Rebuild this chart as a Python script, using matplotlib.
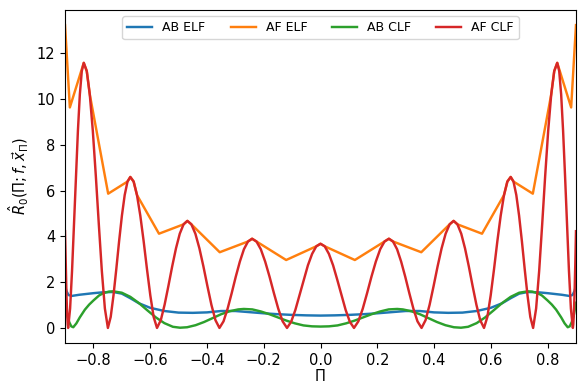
import matplotlib
matplotlib.use("Agg")
import matplotlib.pyplot as plt

# ── Data ───────────────────────────────────────────────────────────────────
# AB ELF (blue)
ab_elf_x = [-0.900, -0.895, -0.888, -0.876, -0.85, -0.80, -0.765, -0.73, -0.70, -0.67,
            -0.64, -0.60, -0.55, -0.50, -0.45, -0.40, -0.35, -0.30, -0.25, -0.20,
            -0.15, -0.10, -0.05, 0.0, 0.05, 0.10, 0.15, 0.20, 0.25, 0.30,
            0.35, 0.40, 0.45, 0.50, 0.55, 0.60, 0.64, 0.67, 0.70, 0.73,
            0.765, 0.80, 0.85, 0.876, 0.888, 0.895, 0.900]
ab_elf_y = [1.85, 1.62, 1.44, 1.40, 1.45, 1.52, 1.56, 1.57, 1.50, 1.30,
            1.08, 0.88, 0.74, 0.67, 0.66, 0.68, 0.74, 0.74, 0.69, 0.64,
            0.60, 0.57, 0.55, 0.54, 0.55, 0.57, 0.60, 0.64, 0.69, 0.74,
            0.74, 0.68, 0.66, 0.67, 0.74, 0.88, 1.08, 1.30, 1.50, 1.57,
            1.56, 1.52, 1.45, 1.40, 1.44, 1.62, 1.85]

# AF ELF (orange)
af_elf_x = [-0.900, -0.883, -0.834, -0.8234, -0.8128, -0.748, -0.6799, -0.670, -0.6583, -0.6465,
            -0.569, -0.4824, -0.469, -0.4549, -0.355, -0.2554, -0.241, -0.2256, -0.121, -0.0148,
            0.0,
            0.0148, 0.121, 0.2256, 0.241, 0.2554, 0.355, 0.4549, 0.469, 0.4824, 0.569,
            0.6465, 0.6583, 0.670, 0.6799, 0.748, 0.8128, 0.8234, 0.834, 0.883, 0.900]
af_elf_y = [13.24, 9.64, 11.59, 11.23, 10.21, 5.87, 6.40, 6.60, 6.40, 5.81,
            4.12, 4.53, 4.68, 4.53, 3.31, 3.78, 3.90, 3.78, 2.97, 3.57,
            3.68,
            3.57, 2.97, 3.78, 3.90, 3.78, 3.31, 4.53, 4.68, 4.53, 4.12,
            5.81, 6.40, 6.60, 6.40, 5.87, 10.21, 11.23, 11.59, 9.64, 13.24]

# AB CLF (green)
ab_clf_x = [-0.900, -0.893, -0.885, -0.878, -0.871, -0.860, -0.848, -0.830, -0.815, -0.800,
            -0.780, -0.765, -0.745, -0.730, -0.700, -0.670, -0.640, -0.610, -0.580, -0.550,
            -0.520, -0.495, -0.470, -0.440, -0.410, -0.380, -0.350, -0.320, -0.290, -0.270,
            -0.240, -0.210, -0.180, -0.150, -0.120, -0.090, -0.060, -0.030, 0.0,
            0.030, 0.060, 0.090, 0.120, 0.150, 0.180, 0.210, 0.240, 0.270, 0.290,
            0.320, 0.350, 0.380, 0.410, 0.440, 0.470, 0.495, 0.520, 0.550, 0.580,
            0.610, 0.640, 0.670, 0.700, 0.730, 0.745, 0.765, 0.780, 0.800, 0.815,
            0.830, 0.848, 0.860, 0.871, 0.878, 0.885, 0.893, 0.900]
ab_clf_y = [1.10, 0.60, 0.25, 0.07, 0.03, 0.20, 0.46, 0.80, 1.02, 1.20,
            1.42, 1.52, 1.59, 1.60, 1.54, 1.36, 1.09, 0.77, 0.46, 0.21,
            0.05, 0.01, 0.03, 0.12, 0.26, 0.43, 0.60, 0.73, 0.81, 0.83,
            0.81, 0.72, 0.60, 0.46, 0.32, 0.20, 0.11, 0.07, 0.06,
            0.07, 0.11, 0.20, 0.32, 0.46, 0.60, 0.72, 0.81, 0.83, 0.81,
            0.73, 0.60, 0.43, 0.26, 0.12, 0.03, 0.01, 0.05, 0.21, 0.46,
            0.77, 1.09, 1.36, 1.54, 1.60, 1.59, 1.52, 1.42, 1.20, 1.02,
            0.80, 0.46, 0.20, 0.03, 0.07, 0.25, 0.60, 1.10]

# AF CLF (red)
af_clf_x = [-0.900, -0.8975, -0.895, -0.8925, -0.8905, -0.889,
            -0.8821, -0.8753, -0.8684, -0.8615, -0.8546, -0.8478, -0.8409, -0.834,
            -0.8234, -0.8128, -0.8021, -0.7915, -0.7809, -0.7703, -0.7596, -0.749,
            -0.7391, -0.7293, -0.7194, -0.7095, -0.6996, -0.6898, -0.6799, -0.670,
            -0.6583, -0.6465, -0.6348, -0.623, -0.6113, -0.5995, -0.5878, -0.576,
            -0.5626, -0.5493, -0.5359, -0.5225, -0.5091, -0.4958, -0.4824, -0.469,
            -0.4549, -0.4408, -0.4266, -0.4125, -0.3984, -0.3843, -0.3701, -0.356,
            -0.3416, -0.3273, -0.3129, -0.2985, -0.2841, -0.2698, -0.2554, -0.241,
            -0.2256, -0.2103, -0.1949, -0.1795, -0.1641, -0.1488, -0.1334, -0.118,
            -0.1033, -0.0885, -0.0738, -0.059, -0.0443, -0.0295, -0.0148, 0.0,
            0.0148, 0.0295, 0.0443, 0.059, 0.0738, 0.0885, 0.1033, 0.118,
            0.1334, 0.1488, 0.1641, 0.1795, 0.1949, 0.2103, 0.2256, 0.241,
            0.2554, 0.2698, 0.2841, 0.2985, 0.3129, 0.3273, 0.3416, 0.356,
            0.3701, 0.3843, 0.3984, 0.4125, 0.4266, 0.4408, 0.4549, 0.469,
            0.4824, 0.4958, 0.5091, 0.5225, 0.5359, 0.5493, 0.5626, 0.576,
            0.5878, 0.5995, 0.6113, 0.623, 0.6348, 0.6465, 0.6583, 0.670,
            0.6799, 0.6898, 0.6996, 0.7095, 0.7194, 0.7293, 0.7391, 0.749,
            0.7596, 0.7703, 0.7809, 0.7915, 0.8021, 0.8128, 0.8234, 0.834,
            0.8409, 0.8478, 0.8546, 0.8615, 0.8684, 0.8753, 0.8821, 0.889,
            0.8905, 0.8925, 0.895, 0.8975, 0.900]
af_clf_y = [4.23, 2.75, 1.50, 0.60, 0.15, 0.0,
            0.85, 2.49, 4.52, 6.65, 8.62, 10.21, 11.23, 11.59,
            11.23, 10.21, 8.62, 6.65, 4.52, 2.49, 0.85, 0.0,
            0.48, 1.42, 2.57, 3.79, 4.91, 5.81, 6.40, 6.60,
            6.40, 5.81, 4.91, 3.79, 2.57, 1.42, 0.48, 0.0,
            0.34, 1.01, 1.83, 2.69, 3.48, 4.12, 4.53, 4.68,
            4.53, 4.12, 3.48, 2.69, 1.83, 1.01, 0.34, 0.0,
            0.29, 0.84, 1.52, 2.24, 2.90, 3.44, 3.78, 3.90,
            3.78, 3.44, 2.90, 2.24, 1.52, 0.84, 0.29, 0.0,
            0.27, 0.79, 1.44, 2.11, 2.74, 3.24, 3.57, 3.68,
            3.57, 3.24, 2.74, 2.11, 1.44, 0.79, 0.27, 0.0,
            0.29, 0.84, 1.52, 2.24, 2.90, 3.44, 3.78, 3.90,
            3.78, 3.44, 2.90, 2.24, 1.52, 0.84, 0.29, 0.0,
            0.34, 1.01, 1.83, 2.69, 3.48, 4.12, 4.53, 4.68,
            4.53, 4.12, 3.48, 2.69, 1.83, 1.01, 0.34, 0.0,
            0.48, 1.42, 2.57, 3.79, 4.91, 5.81, 6.40, 6.60,
            6.40, 5.81, 4.91, 3.79, 2.57, 1.42, 0.48, 0.0,
            0.85, 2.49, 4.52, 6.65, 8.62, 10.21, 11.23, 11.59,
            11.23, 10.21, 8.62, 6.65, 4.52, 2.49, 0.85, 0.0,
            0.15, 0.60, 1.50, 2.75, 4.23]

x_ticks = [-0.8, -0.6, -0.4, -0.2, 0.0, 0.2, 0.4, 0.6, 0.8]
y_ticks = [0, 2, 4, 6, 8, 10, 12]

# ── Figure ─────────────────────────────────────────────────────────────────
fig = plt.figure(figsize=(5.78, 3.85), dpi=100)
ax = fig.add_axes([0.1125, 0.109, 0.884, 0.865])

lw = 1.75
ax.plot(ab_elf_x, ab_elf_y, color="tab:blue", lw=lw, label="AB ELF")
ax.plot(af_elf_x, af_elf_y, color="tab:orange", lw=lw, label="AF ELF")
ax.plot(ab_clf_x, ab_clf_y, color="tab:green", lw=lw, label="AB CLF")
ax.plot(af_clf_x, af_clf_y, color="tab:red", lw=lw, label="AF CLF")

ax.set_xlim(-0.9, 0.9)
ax.set_ylim(-0.66, 13.9)
ax.set_xticks(x_ticks)
ax.set_yticks(y_ticks)
ax.tick_params(labelsize=10.5)
ax.set_xlabel("Π", fontsize=10.5, labelpad=1)
ax.set_ylabel(r"$\hat{R}_0(\Pi; f, \vec{x}_\Pi)$", fontsize=10.5)
ax.legend(loc="upper center", ncol=4, fontsize=9)

fig.savefig("out.png", dpi=100)
